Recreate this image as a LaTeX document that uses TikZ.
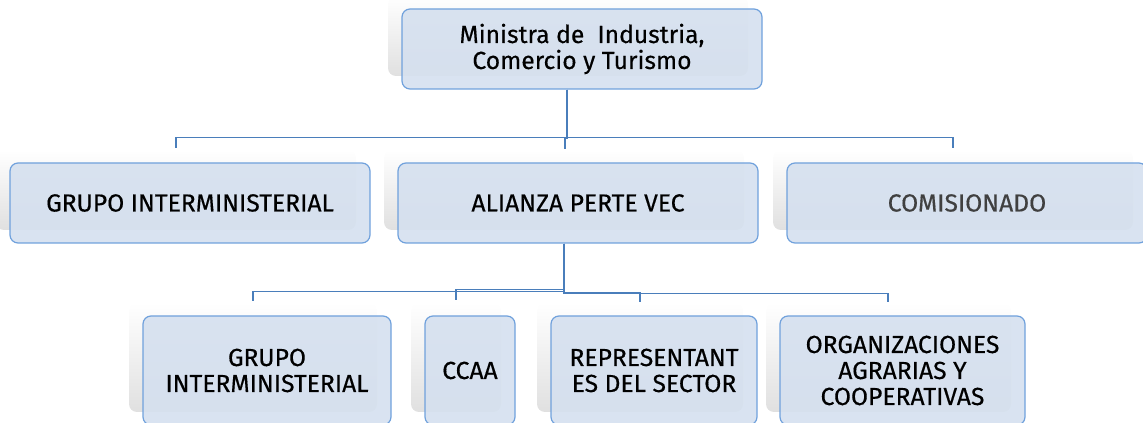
\documentclass[tikz,border=0pt]{standalone}
\usepackage{fontspec}
\setmainfont{Fira Sans}[FakeBold=0.4]
\usetikzlibrary{calc,shadows}

\begin{document}
\begin{tikzpicture}[x=0.75pt,y=0.75pt,yscale=-1,xscale=1,
  box/.style={draw={rgb, 255:red, 112; green, 161; blue, 220 }, line width=0.9, rounded corners=6,
    fill={rgb, 255:red, 213; green, 224; blue, 239 }, fill opacity=0.9, text opacity=1,
    align=center, inner sep=0pt, font=\fontsize{18.5}{19.5}\selectfont,
    general shadow={shadow xshift=-10.5pt, shadow yshift=9.75pt, draw=none, fill opacity=1,
      top color=white, bottom color={rgb, 255:red, 224; green, 224; blue, 224 }}},
  conn/.style={draw={rgb, 255:red, 74; green, 126; blue, 187 }, line width=1.2}]
\useasboundingbox (0,0) rectangle (1143,423);
\clip (0,0) rectangle (1143,423);

%Rounded Rect top
\node [box, minimum width=270pt, minimum height=60pt] (ministra) at (582,49) {Ministra de\ \ Industria,\\Comercio y Turismo};

%Rounded Rect level 1
\node [box, minimum width=270pt, minimum height=60pt] (grupo) at (190,203) {GRUPO INTERMINISTERIAL};
\node [box, minimum width=270pt, minimum height=60pt] (alianza) at (578,203) {ALIANZA PERTE VEC};
\node [box, minimum width=270pt, minimum height=60pt, text={rgb, 255:red, 64; green, 64; blue, 64 }] (comisionado) at (967,203) {COMISIONADO};

%Rounded Rect level 2
\node [box, minimum width=186pt, minimum height=81.75pt] (grupodos) at (267,370.5) {GRUPO\\INTERMINISTERIAL};
\node [box, minimum width=67.5pt, minimum height=81.75pt] (ccaa) at (470,370.5) {CCAA};
\node [box, minimum width=154.5pt, minimum height=81.75pt] (representantes) at (654,370.5) {REPRESENTANT\\ES DEL SECTOR};
\node [box, minimum width=183.75pt, minimum height=81.75pt] (organizaciones) at (902.5,370.5) {ORGANIZACIONES\\AGRARIAS Y\\COOPERATIVAS};

%Elbow Connectors top
\draw [conn] ($(ministra.south)+(-15,0)$) -- ++(0,48) -| ($(grupo.north)+(-14,-14)$) ;
\draw [conn] ($(ministra.south)+(-15,0)$) -- ++(0,49) -| ($(alianza.north)+(-13,-13)$) ;
\draw [conn] ($(ministra.south)+(-15,0)$) -- ++(0,48) -| ($(comisionado.north)+(-14,-14)$) ;

%Elbow Connectors level 2
\draw [conn] ($(alianza.south)+(-14,0)$) -- ++(0,48) -| ($(grupodos.north)+(-14,-14)$) ;
\draw [conn] ($(alianza.south)+(-14,0)$) -- ++(0,46) -| ($(ccaa.north)+(-14,-15)$) ;
\draw [conn] ($(alianza.south)+(-14,0)$) -- ++(0,49) -| ($(representantes.north)+(-14,-13)$) ;
\draw [conn] ($(alianza.south)+(-14,0)$) -- ++(0,50) -| ($(organizaciones.north)+(-14.5,-13)$) ;

\end{tikzpicture}
\end{document}
